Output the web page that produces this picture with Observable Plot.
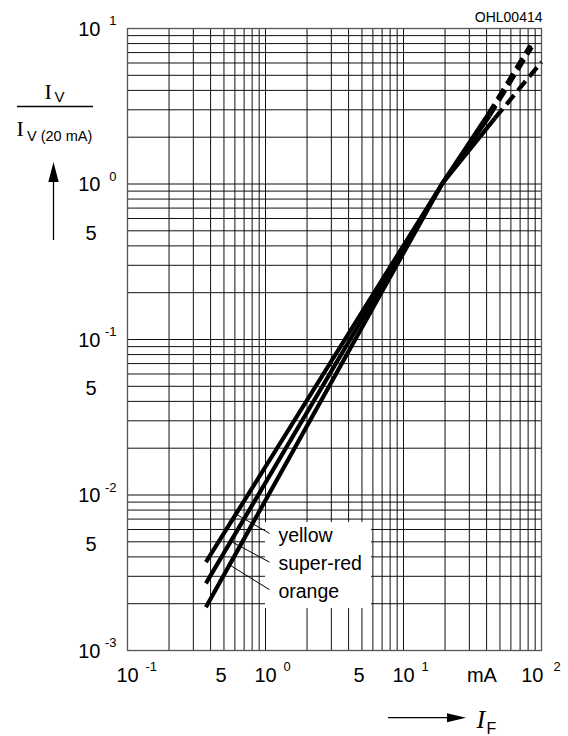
<!DOCTYPE html>
<html><head><meta charset="utf-8">
<script src="https://cdn.jsdelivr.net/npm/d3@7"></script>
<script src="https://cdn.jsdelivr.net/npm/@observablehq/plot@0.6"></script>
<style>body{margin:0;background:#fff;}</style>
</head><body><div id="chart"></div>
<script>
// ---- data ----
const yellowIF = [0.37, 19, 46];
const yellowIV = [0.0037, 1, 2.65];
const yellowDashIF = [46, 100];
const yellowDashIV = [2.65, 6.1];

const superRedIF = [0.37, 19, 42];
const superRedIV = [0.0027, 1, 2.74];
const superRedDashIF = [42, 85];
const superRedDashIV = [2.74, 7.6];

const orangeIF = [0.37, 19, 41];
const orangeIV = [0.0019, 1, 2.8];
const orangeDashIF = [41, 83];
const orangeDashIV = [2.8, 7.8];

const seriesNames = ["yellow", "super-red", "orange"];
const labelIF = [1.24, 1.24, 1.24];
const labelIV = [0.00497, 0.00327, 0.00219];
const leaderFromIF = [0.617, 0.577, 0.558];
const leaderFromIV = [0.0075, 0.00497, 0.00352];
const leaderToIF = [1.07, 1.07, 1.07];
const leaderToIV = [0.00566, 0.0037, 0.00246];
const boxIF = [1.0, 5.86];
const boxIV = [0.00186, 0.00665];

const xDecades = [0.1, 1, 10, 100];
const xExponents = ["-1", "0", "1", "2"];
const yDecades = [0.001, 0.01, 0.1, 1, 10];
const yExponents = ["-3", "-2", "-1", "0", "1"];
const xFives = [0.5, 5];
const yFives = [0.005, 0.05, 0.5];
const xUnit = ["mA"];
const xUnitAt = [37];
const code = ["OHL00414"];

// ---- tables for the library ----
function rows(name, xs, ys, part) { return xs.map((x, i) => ({series: name, part, IF: x, IV: ys[i]})); }
const solid = [
  ...rows("yellow", yellowIF, yellowIV, "solid"),
  ...rows("super-red", superRedIF, superRedIV, "solid"),
  ...rows("orange", orangeIF, orangeIV, "solid")
];
const dashed = [
  ...rows("yellow", yellowDashIF, yellowDashIV, "dash"),
  ...rows("super-red", superRedDashIF, superRedDashIV, "dash"),
  ...rows("orange", orangeDashIF, orangeDashIV, "dash")
];
const labels = seriesNames.map((n, i) => ({name: n, IF: labelIF[i], IV: labelIV[i],
  fx: leaderFromIF[i], fy: leaderFromIV[i], tx: leaderToIF[i], ty: leaderToIV[i]}));

const xGrid = d3.scaleLog().domain([0.1, 100]).ticks();
const yGrid = d3.scaleLog().domain([0.001, 10]).ticks();

const W = 568, H = 736, ML = 127, MR = 27, MT = 28, MB = 86;
const sans = "Liberation Sans, Arial, Helvetica, sans-serif";
const serif = "Liberation Serif, Times New Roman, serif";

function arrows() {
  const g = d3.create("svg:g");
  // fraction bar of the y title
  g.append("line").attr("x1", 17).attr("x2", 93).attr("y1", 106.5).attr("y2", 106.5)
    .attr("stroke", "black").attr("stroke-width", 1.3);
  // vertical arrow
  g.append("line").attr("x1", 53.5).attr("x2", 53.5).attr("y1", 240).attr("y2", 178)
    .attr("stroke", "black").attr("stroke-width", 1.3);
  g.append("path").attr("d", "M53.5,162 L48.3,182 L58.7,182 Z").attr("fill", "black");
  // horizontal arrow
  g.append("line").attr("x1", 388).attr("x2", 450).attr("y1", 717.7).attr("y2", 717.7)
    .attr("stroke", "black").attr("stroke-width", 1.3);
  g.append("path").attr("d", "M466,717.7 L447,713.2 L447,722.2 Z").attr("fill", "black");
  return g.node();
}

const chart = Plot.plot({
  width: W, height: H,
  marginLeft: ML, marginRight: MR, marginTop: MT, marginBottom: MB,
  style: {fontFamily: sans, background: "white", color: "black"},
  x: {type: "log", domain: [0.1, 100], axis: null},
  y: {type: "log", domain: [0.001, 10], axis: null},
  marks: [
    Plot.ruleX(xGrid, {x: d => d, stroke: "#111", strokeWidth: 1}),
    Plot.ruleY(yGrid, {y: d => d, stroke: "#111", strokeWidth: 1}),
    Plot.frame({stroke: "#555", strokeWidth: 1.3}),
    Plot.rect([0], {x1: () => boxIF[0], x2: () => boxIF[1], y1: () => boxIV[0], y2: () => boxIV[1], fill: "white"}),
    Plot.line(solid, {x: "IF", y: "IV", z: "series", stroke: "black", strokeWidth: 4.2, strokeLinecap: "butt"}),
    Plot.line(dashed, {x: "IF", y: "IV", z: "series", stroke: "black", strokeWidth: 4.2, strokeLinecap: "butt", strokeDasharray: "12,6"}),
    Plot.link(labels, {x1: "fx", y1: "fy", x2: "tx", y2: "ty", stroke: "black", strokeWidth: 1}),
    Plot.text(labels, {x: "IF", y: "IV", text: "name", textAnchor: "start", lineAnchor: "bottom", fontSize: 19.5}),
    // x tick labels
    Plot.text(xDecades.slice(0, 3), {x: d => d, text: () => "10", frameAnchor: "bottom", dy: 25, fontSize: 20, lineAnchor: "middle"}),
    Plot.text(xDecades.slice(0, 3), {x: d => d, text: (d, i) => xExponents[i], frameAnchor: "bottom", dx: 18, dy: 16, textAnchor: "start", fontSize: 13, lineAnchor: "middle"}),
    Plot.text(xDecades.slice(3), {x: d => d, text: () => "10", frameAnchor: "bottom", dx: 2, dy: 25, fontSize: 20, textAnchor: "end", lineAnchor: "middle"}),
    Plot.text(xDecades.slice(3), {x: d => d, text: (d, i) => xExponents[3 + i], frameAnchor: "bottom", dx: 12, dy: 16, textAnchor: "start", fontSize: 13, lineAnchor: "middle"}),
    Plot.text(xFives, {x: d => d, text: () => "5", frameAnchor: "bottom", dx: -3, dy: 25, fontSize: 20, lineAnchor: "middle"}),
    Plot.text(xUnit, {x: (d, i) => xUnitAt[i], text: d => d, frameAnchor: "bottom", dy: 25, fontSize: 20, lineAnchor: "middle"}),
    // y tick labels
    Plot.text(yDecades, {y: d => d, text: () => "10", frameAnchor: "left", dx: -27, dy: 1, textAnchor: "end", fontSize: 20, lineAnchor: "middle"}),
    Plot.text(yDecades, {y: d => d, text: (d, i) => yExponents[i], frameAnchor: "left", dx: -11, dy: -7.5, textAnchor: "end", fontSize: 13, lineAnchor: "middle"}),
    Plot.text(yFives, {y: d => d, text: () => "5", frameAnchor: "left", dx: -31, dy: 2.5, textAnchor: "end", fontSize: 20, lineAnchor: "middle"}),
    // code
    Plot.text(code, {text: d => d, frameAnchor: "top-right", dx: 1, dy: -7, textAnchor: "end", lineAnchor: "bottom", fontSize: 14}),
    // y title
    Plot.text(["I"], {text: d => d, frameAnchor: "top-left", dx: 44 - ML, dy: 98 - MT, textAnchor: "start", lineAnchor: "bottom", fontSize: 22, fontFamily: serif}),
    Plot.text(["V"], {text: d => d, frameAnchor: "top-left", dx: 54 - ML, dy: 101.5 - MT, textAnchor: "start", lineAnchor: "bottom", fontSize: 15}),
    Plot.text(["I"], {text: d => d, frameAnchor: "top-left", dx: 16 - ML, dy: 135.5 - MT, textAnchor: "start", lineAnchor: "bottom", fontSize: 22, fontFamily: serif}),
    Plot.text(["V (20 mA)"], {text: d => d, frameAnchor: "top-left", dx: 26.5 - ML, dy: 140 - MT, textAnchor: "start", lineAnchor: "bottom", fontSize: 14.5}),
    // x title
    Plot.text(["I"], {text: d => d, frameAnchor: "top-left", dx: 476 - ML, dy: 727 - MT, textAnchor: "start", lineAnchor: "bottom", fontSize: 26, fontFamily: serif, fontStyle: "italic"}),
    Plot.text(["F"], {text: d => d, frameAnchor: "top-left", dx: 486 - ML, dy: 733 - MT, textAnchor: "start", lineAnchor: "bottom", fontSize: 16}),
    arrows
  ]
});
document.getElementById("chart").append(chart);
</script>
</body></html>
